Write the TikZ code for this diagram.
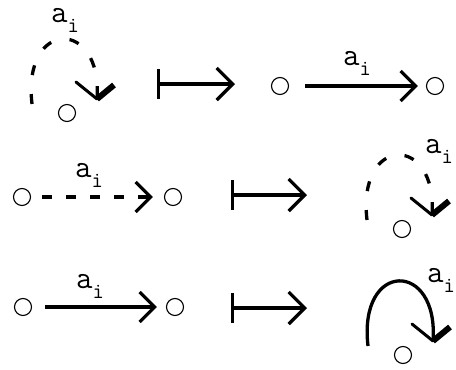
\documentclass[tikz,border=0pt]{standalone}
\usepackage{fontspec}
\usetikzlibrary{arrows.meta}
\newcommand\labelfont{\ttfamily\fontsize{32}{32}\selectfont}
\newcommand\ai{a\raisebox{-10pt}{\fontsize{22}{22}\selectfont i}}
\tikzset{
  st/.style={circle,draw,line width=1.1pt,minimum size=17pt,inner sep=0pt},
  conn/.style={line width=3.3pt,-{Straight Barb[length=15pt,width=30pt]}},
  mapsto/.style={line width=3.3pt,{Bar[width=30pt]}-{Straight Barb[length=16pt,width=32pt]}},
  lbl/.style={anchor=base west,inner sep=0pt,font=\labelfont},
  loopline/.style={line width=3.3pt},
  ldash/.style={dash pattern=on 10pt off 19pt},
  selfloop/.pic={
    \node[st] (-c) at (0,0) {};
    \coordinate (-s) at (-35,-9);
    \coordinate (-t) at (30,-14);
    \coordinate (-l) at (9,-31);
    \coordinate (-r) at (47,-28);
    \draw[loopline,#1] (-s) .. controls (-45,-95) and (36,-95) .. (-t);
    \draw[line width=3pt,line cap=round] (-l) -- (-t);
    \draw[line width=6pt] (-t) -- (-r);
  }
}
\begin{document}
\begin{tikzpicture}[x=1pt,y=-1pt]
\useasboundingbox (0,0) rectangle (456,370);
\fill[white] (0,0) rectangle (456,370);
% row 1
\pic (L1) at (67,113) {selfloop=ldash};
\node[lbl] (la1) at (51,22) {\ai};
\coordinate (m1s) at (157,84);
\coordinate (m1e) at (235,84);
\draw[mapsto] (m1s) -- (m1e);
\node[st] (p1) at (280,86) {};
\node[st] (q1) at (435,86) {};
\draw[conn,shorten <=16pt,shorten >=8pt] (p1) -- (q1);
\node[lbl] (lb1) at (343,65) {\ai};
% row 2
\node[st] (p2) at (22,197) {};
\node[st] (q2) at (173,197) {};
\draw[conn,dash pattern=on 10pt off 14pt,shorten <=11pt,shorten >=11pt] (p2) -- (q2);
\node[lbl] (la2) at (75,177) {\ai};
\coordinate (m2s) at (231,195);
\coordinate (m2e) at (307,195);
\draw[mapsto] (m2s) -- (m2e);
\pic (L2) at (402,229) {selfloop=ldash};
\node[lbl] (lb2) at (425,153) {\ai};
% row 3
\node[st] (p3) at (23,307) {};
\node[st] (q3) at (175,307) {};
\draw[conn,shorten <=13pt,shorten >=9pt] (p3) -- (q3);
\node[lbl] (la3) at (76,288) {\ai};
\coordinate (m3s) at (231,308);
\coordinate (m3e) at (307,308);
\draw[mapsto] (m3s) -- (m3e);
\pic (L3) at (403,355) {selfloop=};
\node[lbl] (lb3) at (427,282) {\ai};
\end{tikzpicture}
\end{document}
